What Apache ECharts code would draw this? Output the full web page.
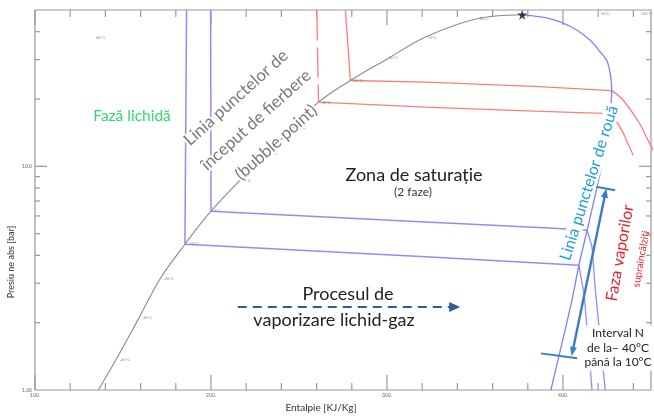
<!DOCTYPE html>
<html><head><meta charset="utf-8">
<script src="https://cdn.jsdelivr.net/npm/echarts@6/dist/echarts.min.js"></script>
<style>html,body{margin:0;padding:0;background:#fff}#c{width:654px;height:417px}</style>
</head><body><div id="c"></div>
<script>
// ---- axis ranges & ticks ----
const H_MIN = 100, H_MAX = 450, P_MIN = 1, P_MAX = 50;
const xMajorTicks = [100, 200, 300, 400];
const xMinorTicks = [120, 140, 160, 180, 220, 240, 260, 280, 320, 340, 360, 380, 420, 440];
const yMajorTicks = [10];
const yMinorTicks = [2, 3, 4, 5, 6, 7, 8, 9, 20, 30, 40];

// ---- saturation dome [h kJ/kg, p bar] ----
const bubbleCurve = [[136.0,1.0],[145.9,1.361],[159.0,2.096],[171.3,3.16],[185.2,4.485],[200.0,6.30],[220.8,9.40],[247.0,14.98],[261.1,19.37],[279.2,24.2],[300.4,30.3],[321.9,37.9],[351.7,45.8],[376.8,47.6]];
const dewCurve = [[376.8,47.6],[381.9,47.2],[390.0,46.2],[398.7,44.1],[408.0,40.6],[415.6,36.5],[421.0,32.6],[424.9,29.7],[427.0,25.5],[427.7,21.8],[427.4,19.5],[426.8,17.8],[424.0,12.2],[420.2,8.66],[413.7,5.18],[409.0,3.61],[405.1,2.52],[399.2,1.59],[393.1,1.0]];
const criticalPoint = [[376.8,47.6]];

// ---- isotherms ----
const isoBlueLowLiquid = [[186.1,49.7],[185.2,4.485]];
const isoBlueLowTwoPhase = [[185.2,4.485],[321.9,3.94],[409.0,3.61]];
const isoBlueLowVapour = [[409.0,3.61],[412.1,2.65],[416.5,1.0]];
const isoBlueHighLiquid = [[199.8,49.7],[200.0,6.30]];
const isoBlueHighTwoPhase = [[200.0,6.30],[321.9,5.64],[392.1,5.30],[413.7,5.18]];
const isoBlueHighVapour = [[413.7,5.18],[416.5,4.36],[418.4,2.80],[424.0,1.0]];
const isoRedLowLiquid = [[260.1,49.7],[261.1,19.37]];
const isoRedLowTwoPhase = [[261.1,19.37],[321.9,18.40],[383.7,17.65],[426.6,17.19]];
const isoRedLowVapour = [[426.6,17.19],[432.4,14.98],[436.1,13.06],[439.9,11.2]];
const isoRedHighLiquid = [[276.4,49.7],[279.2,24.2]];
const isoRedHighTwoPhase = [[279.2,24.2],[321.9,23.8],[383.7,22.8],[427.7,21.8]];
const isoRedHighVapour = [[427.7,21.8],[434.3,19.7],[443.6,15.5],[448.3,13.06],[452,11.5]];

// ---- small temperature labels ----
const satLabelText = ['-40°C','-30°C','-20°C','-10°C','0°C','10°C','20°C','30°C','40°C','50°C','60°C','70°C','80°C','40°C','90°C','100°C'];
const satLabelH = [146.6,159.0,171.3,185.4,200.0,215.7,230.9,247.2,261.2,279.2,299.4,321.3,351.1,133.0,420.0,442.5];
const satLabelP = [1.36,2.10,3.13,4.49,6.30,8.57,11.4,14.9,19.3,24.2,30.4,37.6,45.8,37.7,48.1,48.1];

// ---- annotation arrows ----
const processArrow = [215.2, 2.35, 341.6, 2.35];
const intervalArrow = [424.6, 7.95, 404.9, 1.42];
const intervalTopBar = [[416.5,8.16],[429.6,7.81]];
const intervalBottomBar = [[387.5,1.458],[408.0,1.385]];

const chart = echarts.init(document.getElementById('c'), null, {renderer:'canvas'});
const FONT = 'Lato, "Noto Sans", sans-serif';

function lineSeries(data, color, width, extra) {
  return Object.assign({type:'line', data, showSymbol:false, symbol:'none', silent:true,
    lineStyle:{color, width}, z:3, animation:false}, extra || {});
}
function makeArrow(color, width, dash, headLen, headW, both) {
  return function (params, api) {
    const a = api.coord([api.value(0), api.value(1)]);
    const b = api.coord([api.value(2), api.value(3)]);
    const dx = b[0]-a[0], dy = b[1]-a[1], L = Math.hypot(dx, dy), ux = dx/L, uy = dy/L;
    const head = (tip, d) => {
      const bx = tip[0]-d[0]*headLen, by = tip[1]-d[1]*headLen;
      return {type:'polygon', shape:{points:[tip,[bx-d[1]*headW/2, by+d[0]*headW/2],[bx+d[1]*headW/2, by-d[0]*headW/2]]}, style:{fill:color}};
    };
    const s = both ? [a[0]+ux*headLen*0.8, a[1]+uy*headLen*0.8] : a;
    const e = [b[0]-ux*headLen*0.8, b[1]-uy*headLen*0.8];
    const children = [{type:'line', shape:{x1:s[0],y1:s[1],x2:e[0],y2:e[1]}, style:{stroke:color, lineWidth:width, lineDash:dash}}, head(b,[ux,uy])];
    if (both) children.push(head(a,[-ux,-uy]));
    return {type:'group', children};
  };
}

const xTickData = xMajorTicks.map(v => [v, P_MIN, 15]).concat(xMinorTicks.map(v => [v, P_MIN, 7]));
const yTickData = yMajorTicks.map(v => [H_MIN, v, 12]).concat(yMinorTicks.map(v => [H_MIN, v, 5]));
const tickColor = '#9a9a9a';
const satLabelData = satLabelH.map((h, i) => [h, satLabelP[i], i]);

function txt(text, x, y, size, color, opts) {
  opts = opts || {};
  const el = {type:'text', x, y, z:100, silent:true,
    style:Object.assign({text, fill:color, font:size+'px '+FONT, fontSize:size, fontFamily:FONT,
      align:'center', verticalAlign:'middle', textAlign:'center', textVerticalAlign:'middle'}, opts.style || {})};
  if (opts.rotation !== undefined) el.rotation = opts.rotation;
  return el;
}

const option = {
  backgroundColor:'#fff',
  animation:false,
  grid:{left:35, top:10, width:623, height:380, show:true, borderColor:'#9a9a9a', borderWidth:1.2, backgroundColor:'transparent'},
  xAxis:{type:'value', min:H_MIN, max:H_MAX, interval:100,
    axisLine:{show:false}, axisTick:{show:false}, splitLine:{show:false},
    axisLabel:{fontSize:5, color:'#666', margin:3, fontFamily:FONT, formatter:v => (v % 100 === 0 ? v + '.' : '')}},
  yAxis:{type:'log', logBase:10, min:P_MIN, max:P_MAX,
    axisLine:{show:false}, axisTick:{show:false}, splitLine:{show:false}, minorSplitLine:{show:false},
    axisLabel:{fontSize:5, color:'#666', margin:3, fontFamily:FONT, formatter:v => (v === 1 ? '1.00' : (v === 10 ? '10.0' : ''))}},
  series:[
    // ticks
    {type:'custom', silent:true, clip:false, z:2, data:xTickData, renderItem:(p, api) => {
      const v = api.value(0), len = api.value(2);
      const b = api.coord([v, P_MIN]), t = api.coord([v, P_MAX]);
      return {type:'group', children:[
        {type:'line', shape:{x1:b[0],y1:b[1],x2:b[0],y2:b[1]-len}, style:{stroke:tickColor, lineWidth:1.2}},
        {type:'line', shape:{x1:t[0],y1:t[1],x2:t[0],y2:t[1]+len}, style:{stroke:tickColor, lineWidth:1.2}}]};
    }},
    {type:'custom', silent:true, clip:false, z:2, data:yTickData, renderItem:(p, api) => {
      const v = api.value(1), len = api.value(2);
      const l = api.coord([H_MIN, v]), r = api.coord([H_MAX, v]);
      return {type:'group', children:[
        {type:'line', shape:{x1:l[0],y1:l[1],x2:l[0]+len,y2:l[1]}, style:{stroke:tickColor, lineWidth:1.2}},
        {type:'line', shape:{x1:r[0],y1:r[1],x2:r[0]-len,y2:r[1]}, style:{stroke:tickColor, lineWidth:1.2}}]};
    }},
    // isotherms
    lineSeries(isoBlueLowLiquid, '#8d8dff', 1.5),
    lineSeries(isoBlueLowTwoPhase, '#8d8dff', 1.5),
    lineSeries(isoBlueLowVapour, '#8d8dff', 1.3),
    lineSeries(isoBlueHighLiquid, '#8d8dff', 1.5),
    lineSeries(isoBlueHighTwoPhase, '#8d8dff', 1.5),
    lineSeries(isoBlueHighVapour, '#8d8dff', 1.3),
    lineSeries(isoRedLowLiquid, '#ff7c7c', 1.3, {lineStyle:{color:'#ff7c7c', width:1.3, type:[30,7]}}),
    lineSeries(isoRedLowTwoPhase, '#ff7c7c', 1.3),
    lineSeries(isoRedLowVapour, '#ff7c7c', 1.3, {smooth:0.4}),
    lineSeries(isoRedHighLiquid, '#ff7c7c', 1.3),
    lineSeries(isoRedHighTwoPhase, '#ff7c7c', 1.3),
    lineSeries(isoRedHighVapour, '#ff7c7c', 1.3, {smooth:0.4}),
    // saturation dome
    lineSeries(bubbleCurve, '#8a8a8a', 1.1, {smooth:0.35}),
    lineSeries(dewCurve, '#7f7fff', 1.3, {smooth:0.2}),
    {type:'scatter', data:criticalPoint, symbol:'path://M50,0 L61,35 L98,35 L68,57 L79,91 L50,70 L21,91 L32,57 L2,35 L39,35 Z',
      symbolSize:10, itemStyle:{color:'#111'}, z:6, silent:true},
    // temperature labels
    {type:'custom', silent:true, clip:false, z:4, data:satLabelData, renderItem:(p, api) => {
      const c = api.coord([api.value(0), api.value(1)]);
      return {type:'text', x:c[0]+3, y:c[1], style:{text:satLabelText[api.value(2)], fill:'#888', font:'4px '+FONT, fontSize:4, verticalAlign:'middle', textVerticalAlign:'middle'}};
    }},
    // interval bars
    lineSeries(intervalTopBar, '#3c7bc8', 2),
    lineSeries(intervalBottomBar, '#3c7bc8', 2),
    // arrows
    {type:'custom', silent:true, clip:false, z:7, data:[processArrow], renderItem:makeArrow('#2c5f98', 2, [9,6], 11, 10, false)},
    {type:'custom', silent:true, clip:false, z:7, data:[intervalArrow], renderItem:makeArrow('#3c7bc8', 2.4, null, 9, 7, true)}
  ],
  graphic:[
    txt('Fază lichidă', 132, 116, 15.5, '#31d96a'),
    txt('Linia punctelor de\nînceput de fierbere\n(bubble point)', 256, 120, 17, '#7a7a7a',
      {rotation:42*Math.PI/180, style:{lineHeight:30, stroke:'#fff', lineWidth:4}}),
    txt('Zona de saturație', 414, 175, 18, '#222'),
    txt('(2 faze)', 413, 192, 12, '#333'),
    txt('Linia punctelor de rouă', 589, 183, 16, '#1d9fd9',
      {rotation:72.6*Math.PI/180, style:{backgroundColor:'#fff', padding:[0,2]}}),
    txt('Faza vaporilor', 620, 253, 16, '#e3202c', {rotation:80*Math.PI/180}),
    txt('supraîncălziți', 641, 259, 10, '#e3202c', {rotation:80*Math.PI/180}),
    txt('Procesul de', 348, 294, 18, '#222'),
    txt('vaporizare lichid-gaz', 334, 320, 18, '#222'),
    txt('Interval N\nde la– 40°C\npână la 10°C', 618, 348, 12, '#222',
      {style:{lineHeight:14.5, backgroundColor:'#fff', padding:[1,2]}}),
    txt('Presiu ne abs [bar]', 11, 262, 9, '#333', {rotation:90*Math.PI/180}),
    txt('Entalpie [KJ/Kg]', 321, 408, 10, '#333')
  ]
};
chart.setOption(option);
</script></body></html>
